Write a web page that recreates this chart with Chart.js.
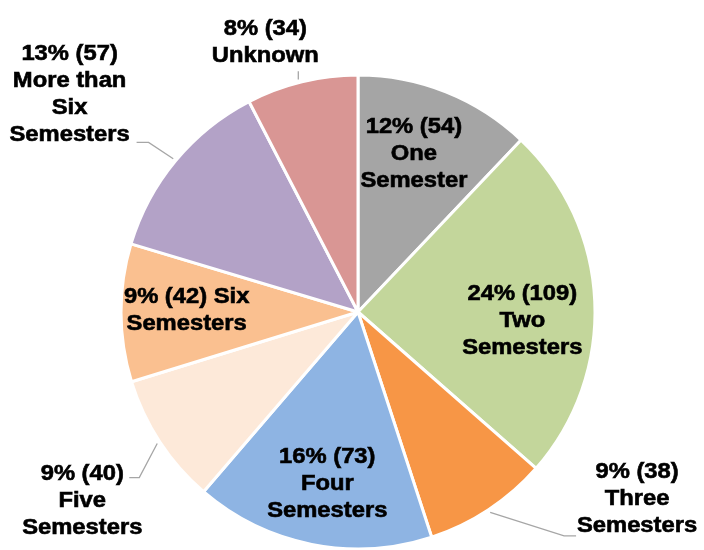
<!DOCTYPE html>
<html>
<head>
<meta charset="utf-8">
<script src="https://cdn.jsdelivr.net/npm/chart.js@4"></script>
<style>
  body { margin: 0; background: #fff; }
</style>
</head>
<body>
<canvas id="pie" width="704" height="550"></canvas>
<script>
// Data
var categories = ['One Semester', 'Two Semesters', 'Three Semesters', 'Four Semesters',
                  'Five Semesters', 'Six Semesters', 'More than Six Semesters', 'Unknown'];
var counts = [54, 109, 38, 73, 40, 42, 57, 34];
// how each category name is broken over lines in its label
var nameLines = [
    ['One', 'Semester'],
    ['Two', 'Semesters'],
    ['Three', 'Semesters'],
    ['Four', 'Semesters'],
    ['Five', 'Semesters'],
    ['Six', 'Semesters'],
    ['More than', 'Six', 'Semesters'],
    ['Unknown']
];

var colors = ['#A5A5A5', '#C3D69B', '#F79646', '#8EB4E3', '#FDE9D9', '#FAC090', '#B3A2C7', '#D99694'];

// label placement: r = distance as fraction of radius, da = shift from slice mid angle (deg)
// joinFirst = put first name word on the value line; leader = elbow/end offsets from label centre
var labelStyle = [
    { r: 0.712, da: -2.4 },
    { r: 0.694, da: 5.4 },
    { r: 1.415, da: -22.9, leader: { elbow: [-73, 38], end: [-61, 38] } },
    { r: 0.734, da: -1.1 },
    { r: 1.407, da: -1.0, leader: { elbow: [57, -22], end: [47, -22] } },
    { r: 0.723, da: 0.9, joinFirst: true },
    { r: 1.527, da: -2.5, leader: { elbow: [79, 49], end: [67, 49] } },
    { r: 1.208, da: -5.2, leader: { end: [33, 30] } }
];

var total = counts.reduce(function (a, b) { return a + b; }, 0);

var labelPlugin = {
    id: 'sliceLabels',
    afterDatasetsDraw: function (chart) {
        var ctx = chart.ctx;
        var meta = chart.getDatasetMeta(0);
        ctx.save();
        ctx.font = 'bold 22px "Liberation Sans", Arial, sans-serif';
        ctx.textAlign = 'center';
        ctx.textBaseline = 'middle';
        meta.data.forEach(function (arc, i) {
            var st = labelStyle[i];
            var mid = (arc.startAngle + arc.endAngle) / 2;
            var a = mid + st.da * Math.PI / 180;
            var R = arc.outerRadius;
            var cx = arc.x + Math.cos(a) * R * st.r;
            var cy = arc.y + Math.sin(a) * R * st.r;

            var pct = Math.round(counts[i] / total * 100);
            var head = pct + '% (' + counts[i] + ')';
            var lines;
            if (st.joinFirst) {
                lines = [head + ' ' + nameLines[i][0]].concat(nameLines[i].slice(1));
            } else {
                lines = [head].concat(nameLines[i]);
            }

            if (st.leader) {
                var sx = arc.x + Math.cos(mid) * (R + 3);
                var sy = arc.y + Math.sin(mid) * (R + 3);
                ctx.strokeStyle = '#A6A6A6';
                ctx.lineWidth = 1.3;
                ctx.beginPath();
                ctx.moveTo(sx, sy);
                if (st.leader.elbow) {
                    ctx.lineTo(cx + st.leader.elbow[0], cy + st.leader.elbow[1]);
                } else {
                    // straight drop onto the rim right under the label
                    sx = cx + st.leader.end[0];
                    ctx.moveTo(sx, arc.y + Math.sin(Math.acos((sx - arc.x) / (R + 3))) * -(R + 3));
                }
                ctx.lineTo(cx + st.leader.end[0], cy + st.leader.end[1]);
                ctx.stroke();
            }

            var lh = 27;
            var y0 = cy - (lines.length - 1) * lh / 2;
            ctx.fillStyle = '#000';
            ctx.strokeStyle = '#000';
            ctx.lineWidth = 0.6;
            lines.forEach(function (t, k) {
                ctx.save();
                ctx.translate(cx, y0 + k * lh);
                ctx.scale(1.08, 1);
                ctx.fillText(t, 0, 1);
                ctx.strokeText(t, 0, 1);
                ctx.restore();
            });
        });
        ctx.restore();
    }
};

var ctx = document.getElementById('pie').getContext('2d');

var pieChart = new Chart(ctx, {
    type: 'pie',
    data: {
        labels: categories,
        datasets: [{
            data: counts,
            backgroundColor: colors,
            borderColor: '#ffffff',
            borderWidth: 3
        }]
    },
    options: {
        responsive: false,
        animation: false,
        radius: 237,
        layout: { padding: { left: 12, right: 0, top: 74, bottom: 0 } },
        plugins: {
            legend: { display: false },
            tooltip: { enabled: false }
        }
    },
    plugins: [labelPlugin]
});
</script>
</body>
</html>
